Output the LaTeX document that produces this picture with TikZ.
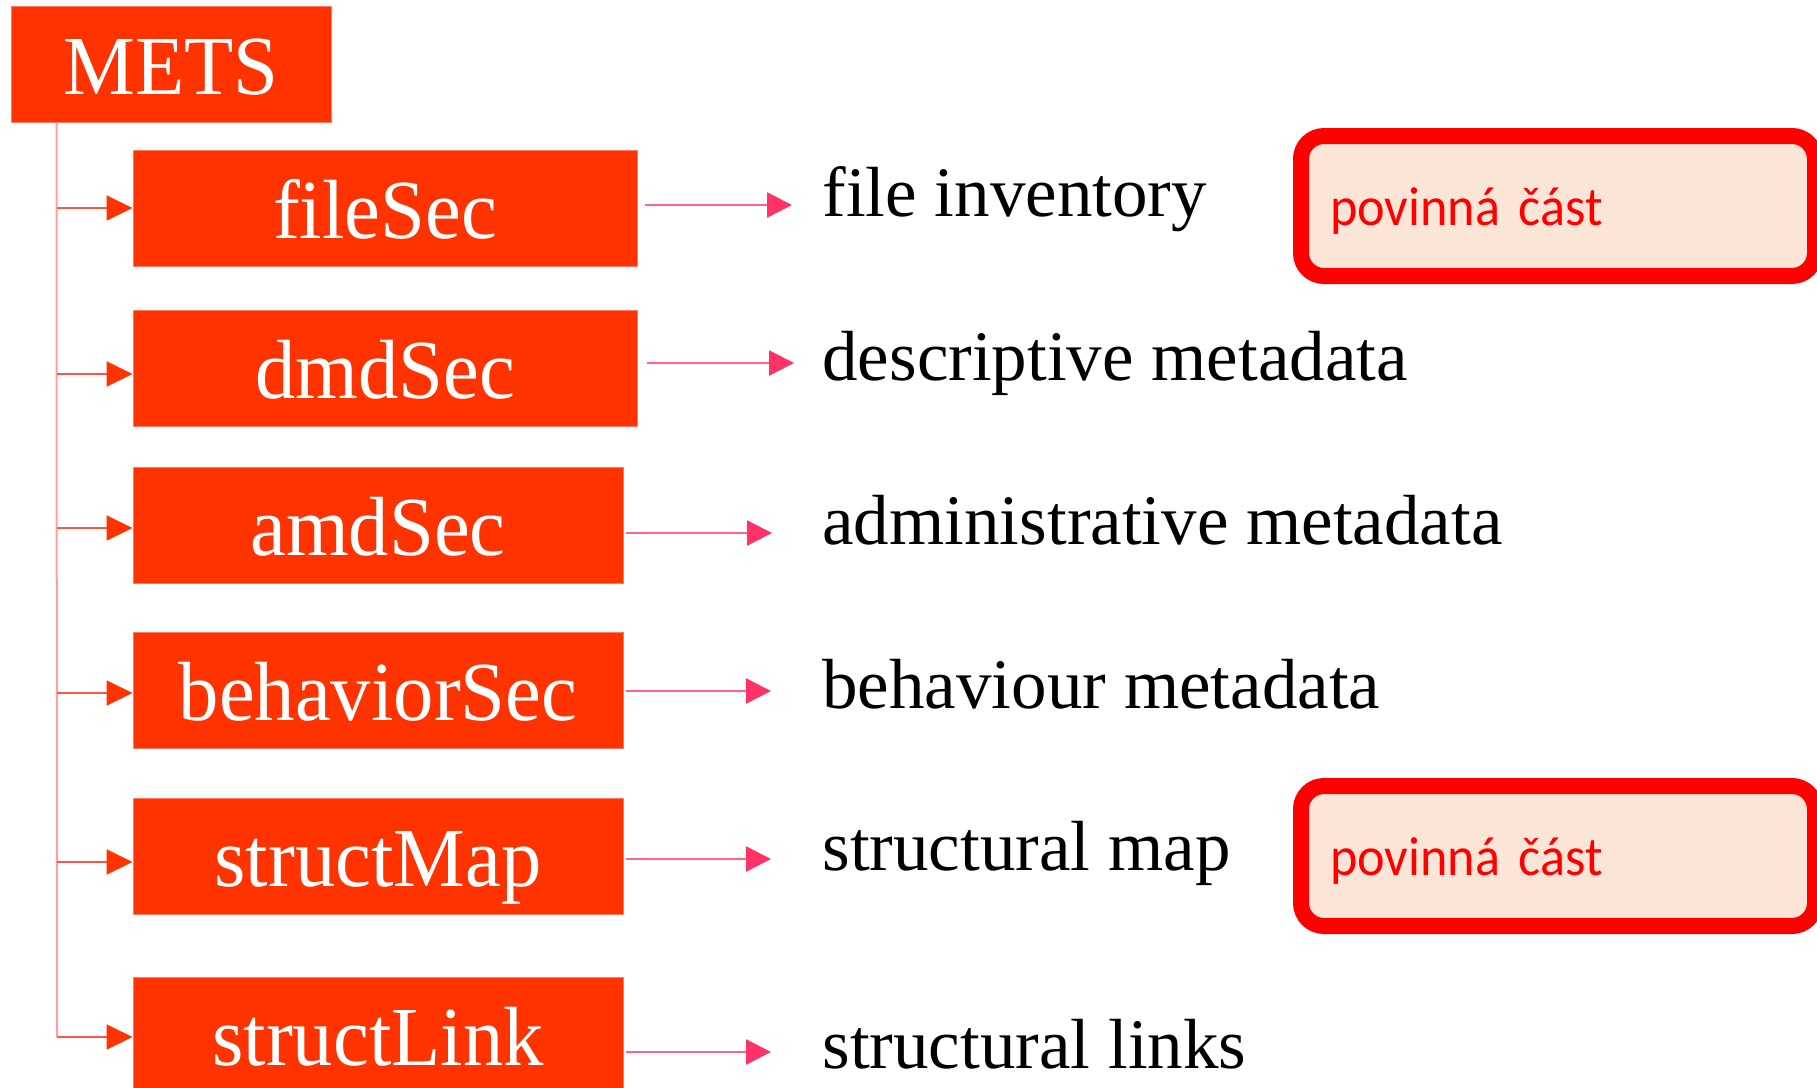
\documentclass[tikz,border=0pt]{standalone}
\usepackage{fontspec}
\setmainfont{Liberation Serif}
\newfontfamily\calib[FakeStretch=0.95]{Carlito}
\newfontfamily\boxfont[FakeStretch=0.96]{Liberation Serif}
\usetikzlibrary{arrows.meta,calc}
\definecolor{boxred}{HTML}{FF3300}
\definecolor{boxedge}{HTML}{FF7A66}
\definecolor{trunkc}{HTML}{FFA0A0}
\definecolor{branchc}{HTML}{FF5544}
\definecolor{rline}{HTML}{FF6688}
\definecolor{rtip}{HTML}{FF3366}
\definecolor{mandred}{HTML}{FF0000}
\definecolor{mandfill}{HTML}{FBE5D6}
\begin{document}
\begin{tikzpicture}[x=0.5pt,y=-0.5pt,
 secbox/.style={draw=boxedge, line width=0.5pt, fill=boxred, text=white, inner sep=0pt,
   minimum height=58pt, text height=30pt, text depth=0pt, font=\boxfont\fontsize{42}{46}\selectfont},
 lbl/.style={anchor=base west, inner sep=0pt, font=\fontsize{35.5}{40}\selectfont},
 trunkline/.style={draw=trunkc, line width=1pt},
 branch/.style={draw=branchc, line width=1pt, -{Triangle[length=13pt,width=12.5pt,color=boxred]}},
 rarrow/.style={draw=rline, line width=1.25pt, -{Triangle[length=12.5pt,width=12.5pt,color=rtip]}},
 mand/.style={draw=mandred, line width=8pt, fill=mandfill, rounded corners=11.5pt,
   minimum width=257pt, minimum height=70pt, text width=228pt, align=left,
   inner xsep=14.5pt, inner ysep=0pt, text height=19pt, text depth=0pt, text=mandred,
   font=\calib\fontsize{27.5}{31}\selectfont}
]
\useasboundingbox (0,0) rectangle (1817,1088);

% section boxes
\node[secbox, minimum width=160pt] (mets) at (171,64) {METS};
\node[secbox, minimum width=252pt] (fileSec) at (385,208) {fileSec};
\node[secbox, minimum width=252pt] (dmdSec) at (385,368) {dmdSec};
\node[secbox, minimum width=245pt] (amdSec) at (378,525) {amdSec};
\node[secbox, minimum width=245pt] (behaviorSec) at (378,690.5) {behaviorSec};
\node[secbox, minimum width=245pt] (structMap) at (378,856.5) {structMap};
\node[secbox, minimum width=245pt] (structLink) at (378,1035) {structLink};

% labels
\node[lbl] (l1) at (822,216) {file inventory};
\node[lbl] (l2) at (822,380) {descriptive metadata};
\node[lbl] (l3) at (822,544) {administrative metadata};
\node[lbl] (l4) at (822,708) {behaviour metadata};
\node[lbl] (l5) at (822,870) {structural map};
\node[lbl] (l6) at (822,1068) {structural links};

% mandatory notes
\node[mand] (m1) at (1558,206) {povinná část};
\node[mand] (m2) at (1558,856) {povinná část};

% tree
\coordinate (trunktop) at ([xshift=23pt]mets.south west);
\coordinate (trunkend) at (57,1037);
\draw[trunkline] (trunktop) -- (trunkend);
\draw[branch] (trunktop |- fileSec.west) -- (fileSec.west);
\draw[branch] ([yshift=-3pt]dmdSec.west -| trunktop) -- ([yshift=-3pt]dmdSec.west);
\draw[branch] ([yshift=-1.5pt]amdSec.west -| trunktop) -- ([yshift=-1.5pt]amdSec.west);
\draw[branch] ([yshift=-1.25pt]behaviorSec.west -| trunktop) -- ([yshift=-1.25pt]behaviorSec.west);
\draw[branch] ([yshift=-2.75pt]structMap.west -| trunktop) -- ([yshift=-2.75pt]structMap.west);
\draw[branch] ([yshift=-1pt]structLink.west -| trunktop) -- ([yshift=-1pt]structLink.west);

% right arrows
\coordinate (ya) at (0,205);
\coordinate (yb) at (0,363);
\coordinate (yc) at (0,533);
\coordinate (yd) at (0,691);
\coordinate (ye) at (0,859);
\coordinate (yf) at (0,1052);
\draw[rarrow] ([xshift=3.5pt]fileSec.east |- ya) -- ([xshift=-15pt]l1.west |- ya);
\draw[rarrow] ([xshift=4.5pt]dmdSec.east |- yb) -- ([xshift=-14pt]l2.west |- yb);
\draw[rarrow] ([xshift=1pt]amdSec.east |- yc) -- ([xshift=-25pt]l3.west |- yc);
\draw[rarrow] ([xshift=1pt]behaviorSec.east |- yd) -- ([xshift=-25.5pt]l4.west |- yd);
\draw[rarrow] ([xshift=1pt]structMap.east |- ye) -- ([xshift=-25.5pt]l5.west |- ye);
\draw[rarrow] ([xshift=1pt]structLink.east |- yf) -- ([xshift=-25.5pt]l6.west |- yf);
\end{tikzpicture}
\end{document}
